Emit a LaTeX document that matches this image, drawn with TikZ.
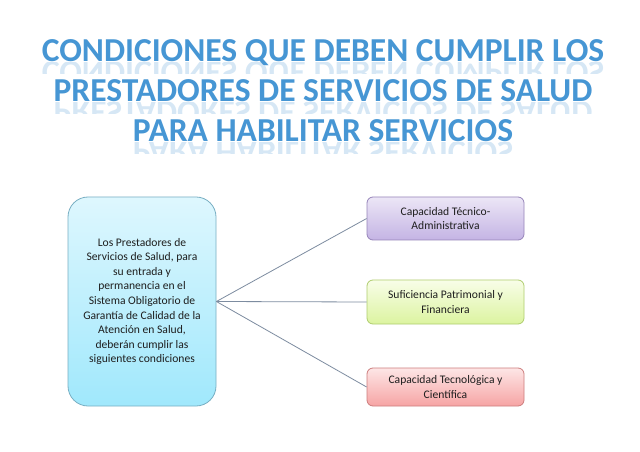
\documentclass[tikz,border=0pt]{standalone}
\usepackage{fontspec}
\setmainfont{Carlito}
\usetikzlibrary{shapes.misc}
\definecolor{titleblue}{RGB}{70,150,212}
\definecolor{txt}{RGB}{30,30,30}
\definecolor{lineblue}{RGB}{125,140,160}
\definecolor{cyanT}{RGB}{222,247,254}
\definecolor{cyanB}{RGB}{160,232,252}
\definecolor{cyanD}{RGB}{120,175,195}
\definecolor{purT}{RGB}{236,230,246}
\definecolor{purB}{RGB}{196,180,228}
\definecolor{purD}{RGB}{150,132,185}
\definecolor{grnT}{RGB}{248,253,232}
\definecolor{grnB}{RGB}{220,244,160}
\definecolor{grnD}{RGB}{175,205,110}
\definecolor{redT}{RGB}{253,230,230}
\definecolor{redB}{RGB}{246,164,164}
\definecolor{redD}{RGB}{205,125,125}
\tikzset{
  titletext/.style={anchor=base, inner sep=0pt, text=titleblue,
    font=\fontsize{33.5bp}{40bp}\selectfont\bfseries},
  reflect/.style={titletext, yscale=-1, transform shape, opacity=0.22},
  bodytext/.style={text=txt, font=\fontsize{11.6bp}{14.6bp}\selectfont, align=center},
  mainbox/.style={bodytext, draw=cyanD, line width=0.8bp, rounded corners=20bp,
    top color=cyanT, bottom color=cyanB, minimum width=148bp, minimum height=209bp, inner sep=0pt},
  sidebox/.style={bodytext, line width=0.8bp, rounded corners=6bp,
    minimum width=157bp, inner sep=0pt},
  conn/.style={draw=lineblue, line width=0.8bp}
}
\begin{document}
\begin{tikzpicture}[x=1bp,y=-1bp]
\useasboundingbox[fill=white] (0,0) rectangle (640,452);
% title reflections (clipped to a short band under each line)
\begin{scope}
\clip (0,63) rectangle (640,74);
\node[reflect] (r1) at (323,62) {CONDICIONES QUE DEBEN CUMPLIR LOS};
\end{scope}
\begin{scope}
\clip (0,103) rectangle (640,114);
\node[reflect] (r2) at (323,102) {PRESTADORES DE SERVICIOS DE SALUD};
\end{scope}
\begin{scope}
\clip (0,143) rectangle (640,154);
\node[reflect] (r3) at (323,142) {PARA HABILITAR SERVICIOS};
\end{scope}
% title
\node[titletext] (t1) at (323,62) {CONDICIONES QUE DEBEN CUMPLIR LOS};
\node[titletext] (t2) at (323,102) {PRESTADORES DE SERVICIOS DE SALUD};
\node[titletext] (t3) at (323,142) {PARA HABILITAR SERVICIOS};
% boxes
\node[mainbox] (m) at (142,301.5) {Los Prestadores de\\Servicios de Salud, para\\su entrada y\\permanencia en el\\Sistema Obligatorio de\\Garantía de Calidad de la\\Atención en Salud,\\deberán cumplir las\\siguientes condiciones};
\node[sidebox, draw=purD, top color=purT, bottom color=purB, minimum height=43bp] (a) at (445.5,218.5) {Capacidad Técnico-\\Administrativa};
\node[sidebox, draw=grnD, top color=grnT, bottom color=grnB, minimum height=44bp] (b) at (445.5,302) {Suficiencia Patrimonial y\\Financiera};
\node[sidebox, draw=redD, top color=redT, bottom color=redB, minimum height=38bp] (c) at (445.5,387) {Capacidad Tecnológica y\\Científica};
% connectors
\draw[conn] (m.east) -- (a.west);
\draw[conn] (m.east) -- (b.west);
\draw[conn] (m.east) -- (c.west);
\end{tikzpicture}
\end{document}
